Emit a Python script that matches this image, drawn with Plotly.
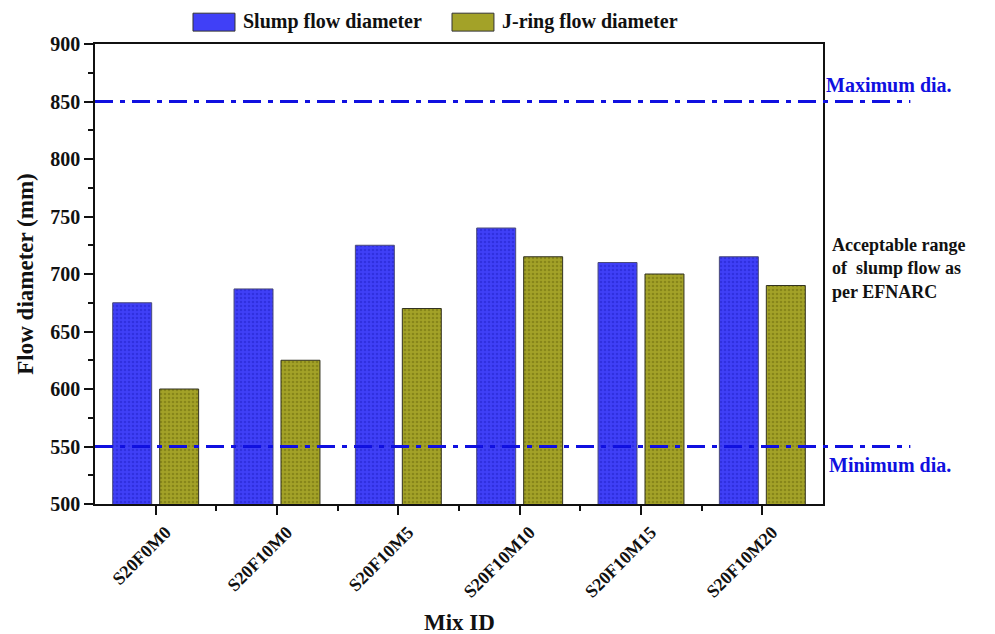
import plotly.graph_objects as go

# Mix designations and measured flow diameters (mm)
mix_ids = ["S20F0M0", "S20F10M0", "S20F10M5", "S20F10M10", "S20F10M15", "S20F10M20"]
slump_flow = [675, 687, 725, 740, 710, 715]
jring_flow = [600, 625, 670, 715, 700, 690]

# EFNARC acceptance limits for slump flow (mm)
max_dia = 850
min_dia = 550

y_ticks = [500, 550, 600, 650, 700, 750, 800, 850, 900]

SERIF = "Liberation Serif, Times New Roman, serif"
BLUE_FILL = "#4040f7"
BLUE_DOT = "#2020c8"
OLIVE_FILL = "#a3a228"
OLIVE_DOT = "#6b6a0c"
LIMIT_BLUE = "#1010e0"

x_pos = list(range(len(mix_ids)))

fig = go.Figure()
fig.add_trace(go.Bar(
    x=x_pos, y=slump_flow, base=0, name="Slump flow diameter",
    marker=dict(color=BLUE_FILL, line=dict(color="#4a4a7a", width=1),
                pattern=dict(shape=".", fgcolor=BLUE_DOT, size=4, solidity=0.35)),
    showlegend=False,
))
fig.add_trace(go.Bar(
    x=x_pos, y=jring_flow, base=0, name="J-ring flow diameter",
    marker=dict(color=OLIVE_FILL, line=dict(color="#333320", width=1),
                pattern=dict(shape=".", fgcolor=OLIVE_DOT, size=4, solidity=0.35)),
    showlegend=False,
))

# Limit lines, running past the frame toward their labels
for val in (max_dia, min_dia):
    fig.add_shape(type="line", xref="paper", yref="y", x0=0, x1=1.12, y0=val, y1=val,
                  line=dict(color=LIMIT_BLUE, width=3, dash="18px,7px,5px,7px"), layer="above")

fig.add_annotation(xref="paper", yref="y", x=1.002, y=max_dia + 14, xanchor="left", yanchor="middle",
                   text="<b>Maximum dia.</b>", showarrow=False,
                   font=dict(family=SERIF, size=20, color=LIMIT_BLUE))
fig.add_annotation(xref="paper", yref="y", x=1.006, y=min_dia - 16, xanchor="left", yanchor="middle",
                   text="<b>Minimum dia.</b>", showarrow=False,
                   font=dict(family=SERIF, size=20, color=LIMIT_BLUE))
fig.add_annotation(xref="paper", yref="y", x=1.009, y=705, xanchor="left", yanchor="middle", align="left",
                   text="<b>Acceptable range<br>of  slump flow as<br>per EFNARC</b>", showarrow=False,
                   font=dict(family=SERIF, size=18, color="#111111"))

# Legend drawn as swatches with labels above the frame
legend_items = [
    ("Slump flow diameter", BLUE_FILL, 0.1346, 0.1923, 0.2005),
    ("J-ring flow diameter", OLIVE_FILL, 0.4904, 0.548, 0.556),
]
for label, color, sx0, sx1, tx in legend_items:
    fig.add_shape(type="rect", xref="paper", yref="paper", x0=sx0, x1=sx1, y0=1.028, y1=1.067,
                  fillcolor=color, line=dict(color="#333333", width=1))
    fig.add_annotation(xref="paper", yref="paper", x=tx, y=1.048, xanchor="left", yanchor="middle",
                       text=f"<b>{label}</b>", showarrow=False,
                       font=dict(family=SERIF, size=20, color="#111111"))

# x-axis title placed below the rotated tick labels
fig.add_annotation(xref="paper", yref="paper", x=0.5, y=-0.257, xanchor="center", yanchor="middle",
                   text="<b>Mix ID</b>", showarrow=False,
                   font=dict(family=SERIF, size=23, color="#111111"))

fig.update_layout(
    width=995, height=634,
    margin=dict(l=95, r=172, t=44, b=130),
    paper_bgcolor="white", plot_bgcolor="white",
    barmode="group", bargap=0.226, bargroupgap=0.17,
    font=dict(family=SERIF, color="#111111"),
)
fig.update_xaxes(
    range=[-0.5, 5.5], tickmode="array", tickvals=x_pos,
    ticktext=[f"<b>{m}</b>" for m in mix_ids], tickangle=-45,
    tickfont=dict(family=SERIF, size=18, color="#111111"),
    ticklabelshift=10, ticklabelstandoff=0,
    ticks="outside", ticklen=9, tickwidth=1.5, tickcolor="#111111",
    minor=dict(tickmode="array", tickvals=[i + 0.5 for i in x_pos[:-1]],
               ticks="outside", ticklen=5, tickwidth=1.5, tickcolor="#111111"),
    showline=True, linecolor="#111111", linewidth=1.5, mirror=True,
    showgrid=False, zeroline=False, automargin=False,
)
fig.update_yaxes(
    range=[500, 900], tickmode="array", tickvals=y_ticks,
    ticktext=[f"<b>{v}</b>" for v in y_ticks],
    tickfont=dict(family=SERIF, size=20, color="#111111"),
    ticks="outside", ticklen=9, tickwidth=1.5, tickcolor="#111111",
    minor=dict(dtick=25, ticks="outside", ticklen=5, tickwidth=1.5, tickcolor="#111111"),
    showline=True, linecolor="#111111", linewidth=1.5, mirror=True,
    showgrid=False, zeroline=False, automargin=False,
    title=dict(text="<b>Flow diameter (mm)</b>", font=dict(family=SERIF, size=23, color="#111111"), standoff=10),
)

fig.write_html("out.html")
